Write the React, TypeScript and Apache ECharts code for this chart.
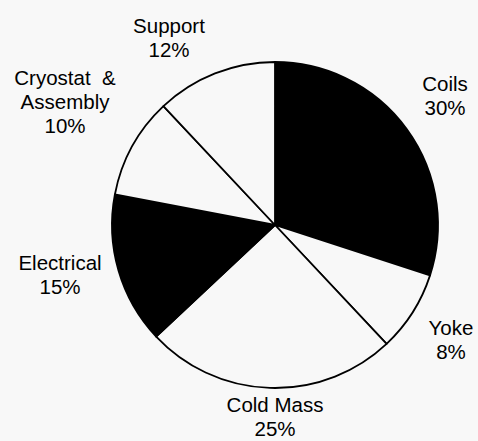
import React, { useEffect, useRef } from "react";
import * as echarts from "echarts";

// Cost breakdown by subsystem, percent of total
const categories = ["Coils", "Yoke", "Cold Mass", "Electrical", "Cryostat & Assembly", "Support"];
const shares = [30, 8, 25, 15, 10, 12];
const fills = ["#000000", "#f8f8f8", "#f8f8f8", "#000000", "#f8f8f8", "#f8f8f8"];

// Label text lines and where each label block sits (centre point, px)
const labelLines = [["Coils"], ["Yoke"], ["Cold Mass"], ["Electrical"], ["Cryostat  &", "Assembly"], ["Support"]];
const labelSpots: [number, number][] = [
  [445, 95],
  [451, 339],
  [275, 416],
  [60, 274],
  [65, 101],
  [169, 37],
];

export default function App() {
  const ref = useRef<HTMLDivElement>(null);

  useEffect(() => {
    if (!ref.current) return;
    const chart = echarts.init(ref.current, null, { renderer: "svg" });
    chart.setOption({
      animation: false,
      backgroundColor: "#f8f8f8",
      series: [
        {
          type: "pie",
          center: [275, 225],
          radius: 163,
          startAngle: 90,
          clockwise: true,
          silent: true,
          data: categories.map((name, i) => ({
            name,
            value: shares[i],
            itemStyle: { color: fills[i] },
          })),
          itemStyle: { borderColor: "#000", borderWidth: 1.8 },
          label: {
            show: true,
            position: "inside",
            overflow: "none",
            formatter: (p: any) => [...labelLines[p.dataIndex], `${shares[p.dataIndex]}%`].join("\n"),
            fontFamily: "'Liberation Sans', Arial, sans-serif",
            fontSize: 20.5,
            lineHeight: 24,
            color: "#000",
            align: "center",
          },
          labelLine: { show: false },
          labelLayout: (p: any) => ({
            x: labelSpots[p.dataIndex][0],
            y: labelSpots[p.dataIndex][1],
            align: "center",
            verticalAlign: "middle",
          }),
        },
      ],
    });
    return () => chart.dispose();
  }, []);

  return (
    <div
      ref={ref}
      style={{ position: "absolute", left: 0, top: 0, width: 478, height: 441 }}
    />
  );
}
